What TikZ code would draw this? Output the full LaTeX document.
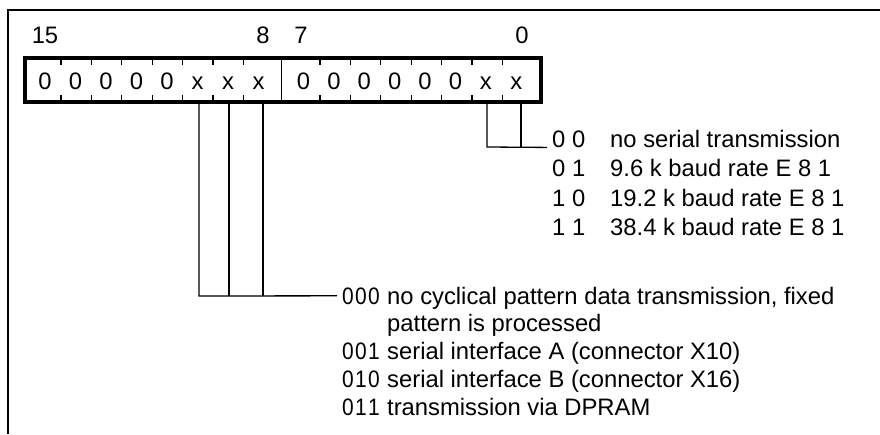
\documentclass[tikz,border=0pt]{standalone}
\usepackage{fontspec}
\setmainfont{Liberation Sans}
\usetikzlibrary{calc}

\newcommand{\narrowcode}[3]{\scalebox{0.88}[1]{#1\hspace{1.5pt}#2\hspace{1.5pt}#3}}

\begin{document}
\begin{tikzpicture}[x=1pt, y=-1pt,
    every node/.style={font=\fontsize{23.8}{28}\selectfont, inner sep=0pt},
    frame/.style={line width=2pt},
    regbox/.style={draw, line width=4pt, minimum width=516pt, minimum height=44pt},
    tick/.style={line width=1.2pt},
    wire/.style={line width=1.3pt}]

\useasboundingbox (0,0) rectangle (880,434);

% --- OUTER FRAME ---
\draw[frame] (7.5,434) -- (7.5,10) -- (880,10);

% --- REGISTER (bits 15..0) ---
\node[regbox] (reg) at (282.5,79.5) {};
\draw[wire] (281.5,59.5) -- (281.5,99.5);

% Cell ticks
\foreach \x in {61,91.4,121.8,152.2,182.6,213,243.4,320,350.4,380.8,411.2,441.6,472,502.4}
    \draw[tick] (\x,59.5) -- ++(0,5) (\x,99.5) -- ++(0,-5);

% Bit values
\foreach \v [count=\i from 0] in {0,0,0,0,0,x,x,x}{
    \pgfmathtruncatemacro\bit{15-\i}
    \node[anchor=base] (b\bit) at (45+30.5*\i,89.5) {\v};
}
\foreach \v [count=\i from 0] in {0,0,0,0,0,0,x,x}{
    \pgfmathtruncatemacro\bit{7-\i}
    \node[anchor=base] (b\bit) at (303.5+30.4*\i,89.5) {\v};
}

% Bit numbers
\node[anchor=base] (n15) at (45,43) {15};
\node[anchor=base] (n8) at (263,43) {8};
\node[anchor=base] (n7) at (301,43) {7};
\node[anchor=base] (n0) at (522,43) {0};

% --- BITS 1..0: BAUD RATE ---
\coordinate (j1) at (487,147);
\coordinate (j0) at (521,147);

\node[anchor=base west] (c00) at (552,147) {0 0};
\node[anchor=base west] (c01) at (552,176.5) {0 1};
\node[anchor=base west] (c10) at (552,206) {1 0};
\node[anchor=base west] (c11) at (552,235.5) {1 1};

\node[anchor=base west] (d00) at (610,147) {no serial transmission};
\node[anchor=base west] (d01) at (610,176.5) {9.6 k baud rate E 8 1};
\node[anchor=base west] (d10) at (610,206) {19.2 k baud rate E 8 1};
\node[anchor=base west] (d11) at (610,235.5) {38.4 k baud rate E 8 1};

\draw[wire] (j1 |- reg.south) -- (j1) -- ([xshift=-5pt]c00.south west);
\draw[wire] (j0 |- reg.south) -- (j0);

% --- BITS 10..8: DATA SOURCE ---
\coordinate (k10) at (199,296);
\coordinate (k9) at (229,296);
\coordinate (k8) at (263,296);

\node[anchor=base west] (c000) at (342,304) {\narrowcode000};
\node[anchor=base west] (c001) at (342,359.5) {\narrowcode001};
\node[anchor=base west] (c010) at (342,387.25) {\narrowcode010};
\node[anchor=base west] (c011) at (342,415) {\narrowcode011};

\node[anchor=base west] (d000) at (387,304) {no cyclical pattern data transmission, fixed};
\node[anchor=base west] (d000b) at (387,331.75) {pattern is processed};
\node[anchor=base west] (d001) at (387,359.5) {serial interface A (connector X10)};
\node[anchor=base west] (d010) at (387,387.25) {serial interface B (connector X16)};
\node[anchor=base west] (d011) at (387,415) {transmission via DPRAM};

\draw[wire] (k10 |- reg.south) -- (k10) -- ([xshift=-5pt]c000.west);
\draw[wire] (k9 |- reg.south) -- (k9);
\draw[wire] (k8 |- reg.south) -- (k8);

\end{tikzpicture}
\end{document}
